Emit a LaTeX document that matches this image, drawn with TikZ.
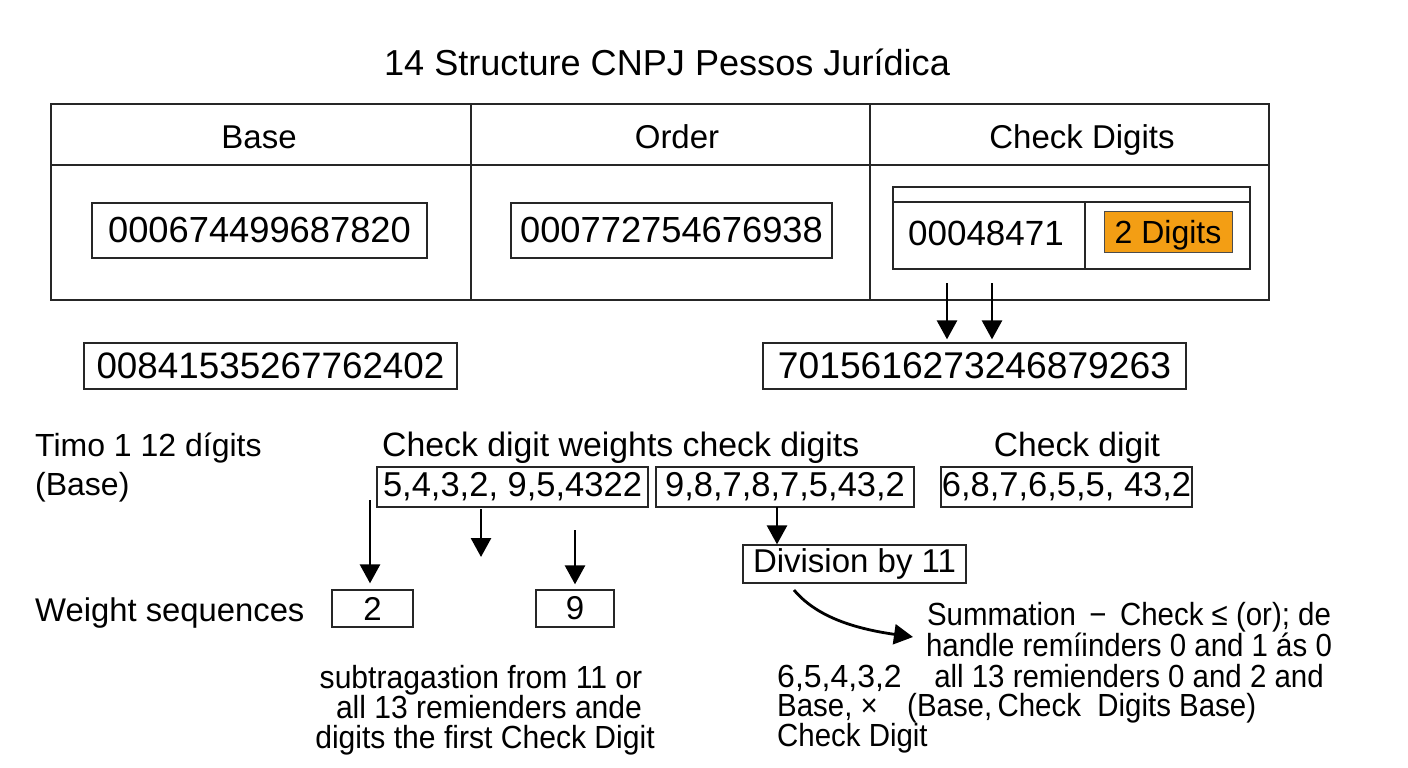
\documentclass[tikz,border=0pt]{standalone}
\usepackage{fontspec}
\setmainfont{Liberation Sans}
\newfontfamily\narrowfont[FakeStretch=0.92]{Liberation Sans}
\newfontfamily\narrowerfont[FakeStretch=0.94]{Liberation Sans}
\usetikzlibrary{arrows.meta}
\definecolor{digorange}{RGB}{243,158,20}
\begin{document}
\begin{tikzpicture}[x=1pt,y=-1pt,
  frame/.style={draw=black!85, line width=1.3pt},
  numbox/.style={draw=black!85, line width=1.3pt, inner sep=0pt, font=\fontsize{36.3}{40}\selectfont},
  smallbox/.style={draw=black!85, line width=1.3pt, inner sep=0pt, minimum height=40pt, font=\fontsize{34.5}{38}\selectfont},
  lbl/.style={inner sep=0pt, font=\fontsize{32}{36}\selectfont},
  nlbl/.style={inner sep=0pt, font=\narrowfont\fontsize{32}{36}\selectfont},
  blbl/.style={inner sep=0pt, font=\narrowerfont\fontsize{32}{36}\selectfont},
  hdr/.style={inner sep=0pt, font=\fontsize{33}{38}\selectfont},
  arr/.style={line width=2.8pt, -{Triangle[length=19pt,width=20pt]}}]
\useasboundingbox[fill=white] (0,0) rectangle (1408,768);

% title
\node[inner sep=0pt, font=\fontsize{36.1}{40}\selectfont, anchor=base] (title) at (667,75) {14 Structure CNPJ Pessos Jurídica};

% main table
\draw[frame] (51,104) rectangle (1269,300);
\draw[frame] (51,165) -- (1269,165);
\draw[frame] (471,104) -- (471,300);
\draw[frame] (870,104) -- (870,300);
\node[hdr, anchor=base] (hBase) at (259,148) {Base};
\node[hdr, anchor=base] (hOrder) at (677,148) {Order};
\node[hdr, anchor=base] (hCheck) at (1082,148) {Check Digits};

\node[numbox, minimum width=335pt, minimum height=55pt] (bBase) at (259.5,230.5) {000674499687820};
\node[numbox, minimum width=321pt, minimum height=55pt] (bOrder) at (671.5,230.5) {000772754676938};

% inner check digit table
\draw[frame] (893,187) rectangle (1250,269);
\draw[frame] (893,202) -- (1250,202);
\draw[frame] (1085,202) -- (1085,269);
\node[inner sep=0pt, font=\fontsize{35}{40}\selectfont] (cd) at (986,233) {00048471};
\node[draw=black!70, line width=1pt, fill=digorange, inner sep=0pt, minimum width=128pt, minimum height=41pt, text height=23pt, text depth=0pt, font=\fontsize{32}{36}\selectfont] (two) at (1168,231.5) {2 Digits};

% second row numbers
\node[numbox, minimum width=373pt, minimum height=46pt, font=\fontsize{36.8}{40}\selectfont] (num1) at (270.5,366) {00841535267762402};
\node[numbox, minimum width=423pt, minimum height=46pt, font=\fontsize{37.2}{40}\selectfont] (num2) at (974.5,366) {7015616273246879263};

\coordinate (s1) at (947,283);
\coordinate (s2) at (992,283);
\draw[arr, shorten >=3pt] (s1) -- (s1 |- num2.north);
\draw[arr, shorten >=3pt] (s2) -- (s2 |- num2.north);

% lower section labels
\node[lbl, anchor=base west] (timo) at (35,456) {Timo 1 12 dígits};
\node[lbl, anchor=base west] (tbase) at (35,495) {(Base)};
\node[lbl, anchor=base west, font=\fontsize{33.8}{38}\selectfont] (cdw) at (382,456) {Check digit weights check digits};
\node[lbl, anchor=base, font=\fontsize{33.6}{38}\selectfont] (cdg) at (1077,456) {Check digit};

\node[smallbox, minimum width=271pt] (w1) at (512.5,487) {5,4,3,2, 9,5,4322};
\node[smallbox, minimum width=258pt] (w2) at (785,487) {9,8,7,8,7,5,43,2};
\node[smallbox, minimum width=251pt] (w3) at (1066.5,487) {6,8,7,6,5,5, 43,2};

\node[smallbox, minimum width=223pt, minimum height=38pt, font=\fontsize{33}{38}\selectfont] (div) at (854.5,564) {Division by 11};

\node[lbl, anchor=base west, font=\fontsize{32.8}{38}\selectfont] (wseq) at (35,621) {Weight sequences};
\node[smallbox, minimum width=81pt, minimum height=37pt, font=\fontsize{33}{38}\selectfont] (seq2) at (372.5,608.5) {2};
\node[smallbox, minimum width=78pt, minimum height=37pt, font=\fontsize{33}{38}\selectfont] (seq9) at (575,608.5) {9};

% arrows lower
\coordinate (a1) at (370,500);
\draw[arr, shorten >=6pt] (a1) -- (a1 |- seq2.north);
\coordinate (a2s) at (481,509);
\coordinate (a2e) at (481,557);
\draw[arr] (a2s) -- (a2e);
\coordinate (a3) at (575,530);
\draw[arr, shorten >=5pt] (a3) -- (a3 |- seq9.north);
\coordinate (a4) at (777,507);
\draw[arr] (a4) -- (a4 |- div.north);

\coordinate (cs) at (794,590);
\coordinate (ce) at (913,637);
\draw[arr] (cs) .. controls (815,615) and (850,628) .. (ce);

% bottom-left text
\node[blbl, anchor=base] (bl1) at (481,688) {subtragaзtion from 11 or};
\node[blbl, anchor=base] (bl2) at (489,718) {all 13 remienders ande};
\node[blbl, anchor=base] (bl3) at (485,748) {digits the first Check Digit};

% right text
\node[nlbl, anchor=base] (r1) at (1129,625) {Summation \,−\, Check ≤ (or); de};
\node[nlbl, anchor=base] (r2) at (1129,656) {handle remíinders 0 and 1 ás 0};
\node[nlbl, anchor=base] (r3) at (1129,687) {all 13 remienders 0 and 2 and};
\node[nlbl, anchor=base west] (r4) at (907,716) {(Base,\,Check \ Digits Base)};
\node[lbl, anchor=base west] (l1) at (777,687) {6,5,4,3,2};
\node[nlbl, anchor=base west] (l2) at (777,716) {Base, ×};
\node[nlbl, anchor=base west] (l3) at (777,746) {Check Digit};
\end{tikzpicture}
\end{document}
